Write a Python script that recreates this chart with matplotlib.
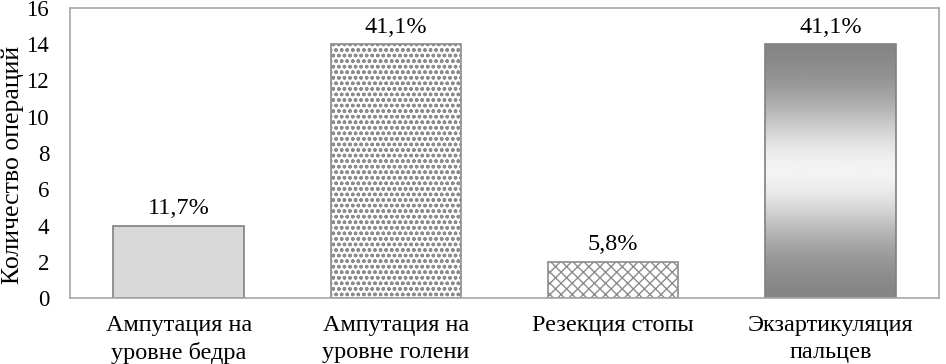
import numpy as np
import matplotlib.pyplot as plt

plt.rcParams['font.family'] = ['Liberation Serif', 'DejaVu Serif']
plt.rcParams['hatch.linewidth'] = 1.0

categories = ['Ампутация на\nуровне бедра', 'Ампутация на\nуровне голени',
              'Резекция стопы', 'Экзартикуляция\nпальцев']
counts = [4, 14, 2, 14]
percent_labels = ['11,7%', '41,1%', '5,8%', '41,1%']

fs = 17.5
fig = plt.figure(figsize=(9.46, 3.64), dpi=100)
ax = fig.add_axes([70 / 946, 1 - 298 / 364, 869 / 946, 290 / 364])

x = np.arange(len(categories))
edge = '#808080'
bars = ax.bar(x, counts, width=0.6, edgecolor=edge, linewidth=1.2, zorder=2)
bars[0].set_facecolor('#d9d9d9')
bars[1].set_facecolor('white')
bars[1].set_hatch('ooo')
bars[1].set_edgecolor('#8c8c8c')
bars[2].set_facecolor('white')
bars[2].set_hatch('xxx')
bars[2].set_edgecolor('#8c8c8c')

# gradient fill for the last bar
b = bars[3]
b.set_facecolor('none')
x0, w, h = b.get_x(), b.get_width(), b.get_height()
t = np.linspace(0, 1, 256)
shade = 0.5 + 0.45 * np.exp(-((t - 0.5) / 0.28) ** 2)
grad = np.tile(shade[:, None], (1, 2))
im = ax.imshow(grad, cmap='gray', vmin=0, vmax=1, aspect='auto',
               extent=[x0, x0 + w, 0, h], origin='lower', zorder=1)
im.set_clip_path(b)

for xi, c, lab in zip(x, counts, percent_labels):
    ax.text(xi, c + 0.35, lab, ha='center', va='bottom', fontsize=fs)

ax.set_xlim(-0.5, len(categories) - 0.5)
ax.set_ylim(0, 16)
ax.set_yticks(range(0, 17, 2))
ax.set_xticks(x)
ax.set_xticklabels(categories, fontsize=fs, linespacing=1.4)
ax.tick_params(axis='y', labelsize=16.5, length=0, pad=15)
ax.tick_params(axis='x', length=0, pad=12)
ax.set_ylabel('Количество операций', fontsize=18.5)
ax.yaxis.set_label_coords(-0.0525, 0.46)
for s in ax.spines.values():
    s.set_color('#a6a6a6')
    s.set_linewidth(1.2)

fig.savefig('out.png', dpi=100)
